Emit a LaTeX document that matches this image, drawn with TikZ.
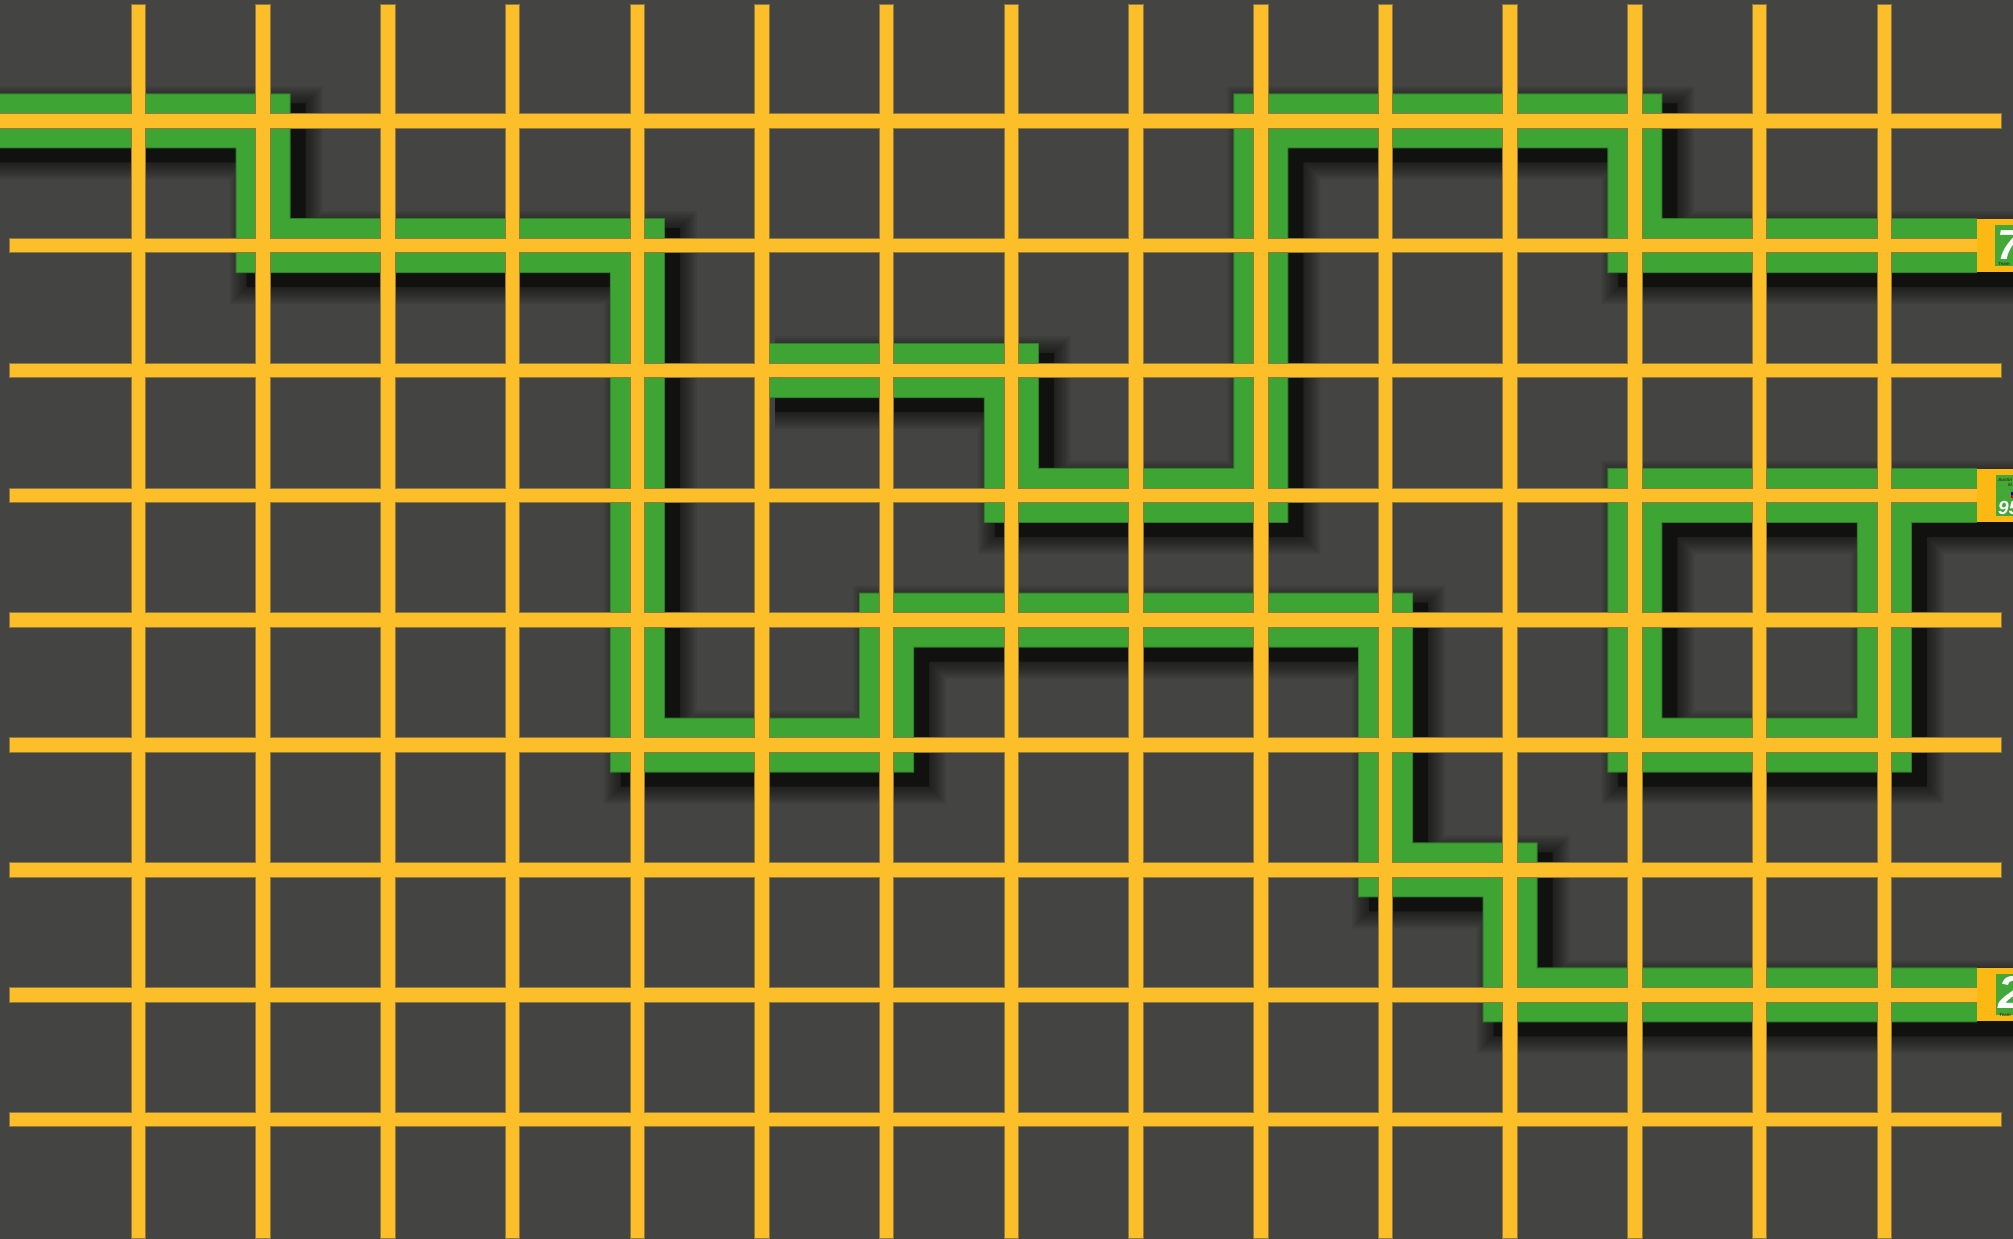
\documentclass[tikz,border=0pt]{standalone}
\usepackage{fontspec}
\setmainfont{Liberation Sans}
\definecolor{bgc}{HTML}{444443}
\definecolor{gridyellow}{HTML}{FCBF29}
\definecolor{gridedgec}{HTML}{8F7A3C}
\definecolor{routegreen}{HTML}{3EA433}
\definecolor{routeedgec}{HTML}{2F7F2A}
\definecolor{labelyellow}{HTML}{FDB913}
\definecolor{labelgreen}{HTML}{43A838}
\definecolor{tinytext}{HTML}{3A3A12}
\newcommand\routeshadow[1]{%
  \draw[transform canvas={xshift=13pt,yshift=-12pt}, black, opacity=0.42, line width=59pt] #1;
  \foreach \w in {61,65,...,93}{\draw[transform canvas={xshift=13pt,yshift=-12pt}, black, opacity=0.07, line width=\w pt] #1;}%
}
\begin{document}
\begin{tikzpicture}[x=1pt,y=-1pt,
  gridline/.style={line width=13.5pt, draw=gridyellow},
  gridedge/.style={line width=15.5pt, draw=gridedgec},
  route/.style={line width=53pt, draw=routegreen},
  routeedge/.style={line width=55pt, draw=routeedgec},
  labelbox/.style={fill=labelyellow, minimum width=60pt, minimum height=53pt, inner sep=0pt, anchor=west},
  innerbox/.style={fill=labelgreen, minimum width=40pt, minimum height=41pt, inner sep=0pt, anchor=west},
  bignum/.style={text=white, inner sep=0pt, anchor=west, font=\bfseries\itshape},
  tiny/.style={text=tinytext, inner sep=0pt, anchor=west, font=\bfseries\itshape\fontsize{4.5}{4.5}\selectfont},
]
\useasboundingbox (0,0) rectangle (2013,1239);
\fill[bgc] (0,0) rectangle (2013,1239);

% grid points
\foreach \i in {0,...,14}{\foreach \j in {0,...,8}{\coordinate (p\i-\j) at ({138.5+124.7*\i},{120.8+124.85*\j});}}
\coordinate (A0) at (-30,120.8);
\coordinate (L1w) at (1977,245.65);
\coordinate (L2w) at (1977,495.35);
\coordinate (L3w) at (1977,994.75);
\coordinate (L1e) at (2003,245.65);
\coordinate (L2e) at (2003,495.35);
\coordinate (L3e) at (2003,994.75);

\def\pathA{(A0) -- (p1-0) -- (p1-1) -- (p4-1) -- (p4-5) -- (p6-5) -- (p6-4) -- (p10-4) -- (p10-6) -- (p11-6) -- (p11-7) -- (L3w)}
\def\pathB{(p5-2) -- (p7-2) -- (p7-3) -- (p9-3) -- (p9-0) -- (p12-0) -- (p12-1) -- (L1w)}
\def\pathC{(L2w) -- (p14-3) -- (p14-5) -- (p12-5) -- (p12-3) -- (p14-3)}

% shadows
\routeshadow{\pathA -- (L3e)}
\routeshadow{\pathB -- (L1e)}
\routeshadow{(L2e) -- \pathC}

% routes
\draw[routeedge] \pathA;
\draw[routeedge] \pathB;
\draw[routeedge] \pathC;
\draw[route] \pathA;
\draw[route] \pathB;
\draw[route] \pathC;

% grid
\foreach \i in {0,...,14}{\draw[gridedge] ({138.5+124.7*\i},4) -- ({138.5+124.7*\i},1239);}
\draw[gridedge] (0,120.8) -- (2002,120.8);
\foreach \j in {1,...,8}{\draw[gridedge] (9,{120.8+124.85*\j}) -- (2002,{120.8+124.85*\j});}
\foreach \i in {0,...,14}{\draw[gridline] ({138.5+124.7*\i},5) -- ({138.5+124.7*\i},1238);}
\draw[gridline] (0,120.8) -- (2001,120.8);
\foreach \j in {1,...,8}{\draw[gridline] (10,{120.8+124.85*\j}) -- (2001,{120.8+124.85*\j});}

% labels
\node[labelbox] (L1) at (L1w) {};
\node[innerbox] (G1) at ([xshift=18pt]L1w) {};
\node[bignum, font=\bfseries\itshape\fontsize{42}{42}\selectfont, anchor=south west] (T1) at (1997,260) {74};
\node[tiny] (S1) at (1998,263.5) {Team};

\node[labelbox] (L2) at (L2w) {};
\node[innerbox] (G2) at ([xshift=19pt]L2w) {};
\node[tiny] (S2a) at (1998,479.5) {Austin};
\node[tiny] (S2b) at (2008,484.5) {M};
\fill[blue!70!black] (2011,492) rectangle (2014,495) node[coordinate] (F2) {};
\fill[red!85!black] (2011,495) rectangle (2014,498) node[coordinate] (F2b) {};
\node[bignum, font=\bfseries\itshape\fontsize{19}{19}\selectfont, anchor=south west] (T2) at (1998,515) {95};

\node[labelbox] (L3) at (L3w) {};
\node[innerbox] (G3) at ([xshift=19pt]L3w) {};
\node[bignum, font=\bfseries\itshape\fontsize{46}{46}\selectfont, anchor=south west] (T3) at (1998,1009) {2};
\node[tiny] (S3) at (1999,1015) {Team};
\end{tikzpicture}
\end{document}
